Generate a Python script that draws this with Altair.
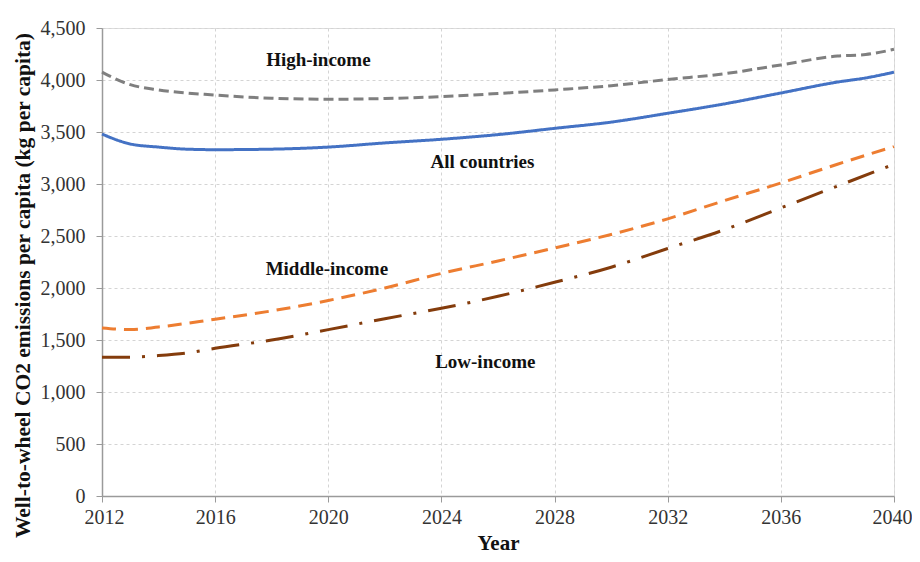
import altair as alt
import pandas as pd

series_names = ["High-income", "All countries", "Middle-income", "Low-income"]

years_high = [2012, 2013, 2014, 2016, 2018, 2020, 2022, 2024, 2026, 2028, 2030, 2032, 2034, 2036, 2038, 2039, 2040]
vals_high = [4075, 3955, 3905, 3855, 3825, 3815, 3822, 3840, 3870, 3905, 3945, 4005, 4060, 4145, 4230, 4245, 4295]

years_all = [2012, 2013, 2014, 2015, 2016, 2018, 2020, 2022, 2024, 2026, 2028, 2030, 2032, 2034, 2036, 2038, 2039, 2040]
vals_all = [3480, 3385, 3355, 3335, 3330, 3335, 3355, 3395, 3430, 3475, 3535, 3595, 3680, 3770, 3875, 3980, 4020, 4075]

years_mid = [2012, 2013, 2014, 2016, 2018, 2020, 2022, 2024, 2026, 2028, 2030, 2032, 2034, 2036, 2038, 2040]
vals_mid = [1615, 1600, 1625, 1700, 1780, 1880, 2000, 2140, 2260, 2385, 2515, 2665, 2840, 3010, 3190, 3360]

years_low = [2012, 2013, 2014, 2015, 2016, 2018, 2020, 2022, 2024, 2026, 2028, 2030, 2032, 2034, 2036, 2038, 2040]
vals_low = [1335, 1335, 1350, 1375, 1420, 1500, 1600, 1705, 1805, 1920, 2055, 2200, 2380, 2560, 2770, 2980, 3190]

label_text = ["High-income", "All countries", "Middle-income", "Low-income"]
label_year = [2019.65, 2025.45, 2019.95, 2025.55]
label_val = [4190, 3215, 2185, 1285]

x_ticks = [2012, 2016, 2020, 2024, 2028, 2032, 2036, 2040]
y_ticks = [0, 500, 1000, 1500, 2000, 2500, 3000, 3500, 4000, 4500]

colors = ["#7F7F7F", "#4472C4", "#ED7D31", "#843C0C"]
dashes = [[10, 5], [1, 0], [14, 8], [28, 12, 3, 12]]

rows = []
for name, ys, vs in zip(series_names, [years_high, years_all, years_mid, years_low],
                        [vals_high, vals_all, vals_mid, vals_low]):
    for y, v in zip(ys, vs):
        rows.append({"series": name, "year": y, "value": v})
df = pd.DataFrame(rows)
labels = pd.DataFrame({"text": label_text, "year": label_year, "value": label_val})

FONT = "Liberation Serif"
W, H = 792, 468

x_enc = alt.X("year:Q", scale=alt.Scale(domain=[2012, 2040], nice=False, zero=False),
              axis=alt.Axis(values=x_ticks, format="d", title="Year", grid=True,
                            gridDash=[3, 3], gridColor="#D4D4D4",
                            labelFlush=True, labelFlushOffset=18,
                            labelFont=FONT, labelFontSize=20, labelColor="#333333",
                            labelPadding=5, tickSize=6, tickColor="#9A9A9A",
                            domainColor="#9A9A9A", domainWidth=1.5,
                            titleFont=FONT, titleFontSize=21, titleFontWeight="bold",
                            titleColor="#111111", titleX=W / 2, titleY=53,
                            titleBaseline="alphabetic", titleAlign="center"))
y_enc = alt.Y("value:Q", scale=alt.Scale(domain=[0, 4500], nice=False),
              axis=alt.Axis(values=y_ticks, format=",d",
                            title="Well-to-wheel CO2 emissions per capita (kg per capita)",
                            grid=True, gridDash=[3, 3], gridColor="#D4D4D4",
                            labelFont=FONT, labelFontSize=20, labelColor="#333333",
                            labelPadding=11, tickSize=6, tickColor="#9A9A9A",
                            domainColor="#9A9A9A", domainWidth=1.5,
                            titleFont=FONT, titleFontSize=21.5, titleFontWeight="bold",
                            titleColor="#111111", titleX=-68, titleY=257,
                            titleAngle=270, titleBaseline="bottom", titleAlign="center"))

lines = alt.Chart(df).mark_line(strokeWidth=3, interpolate="monotone").encode(
    x=x_enc,
    y=y_enc,
    color=alt.Color("series:N", scale=alt.Scale(domain=series_names, range=colors), legend=None),
    strokeDash=alt.StrokeDash("series:N", scale=alt.Scale(domain=series_names, range=dashes), legend=None),
)

text = alt.Chart(labels).mark_text(font=FONT, fontSize=19, fontWeight="bold", color="#111111").encode(
    x="year:Q", y="value:Q", text="text:N"
)

chart = alt.layer(lines, text).properties(
    width=W, height=H,
    autosize=alt.AutoSizeParams(type="none"),
    padding={"left": 94, "top": 20, "right": 18, "bottom": 58},
).configure_view(fill="#EBEBEB", stroke=None).configure(background="white")

chart.save("out.html", embed_options={"renderer": "svg", "actions": False})
